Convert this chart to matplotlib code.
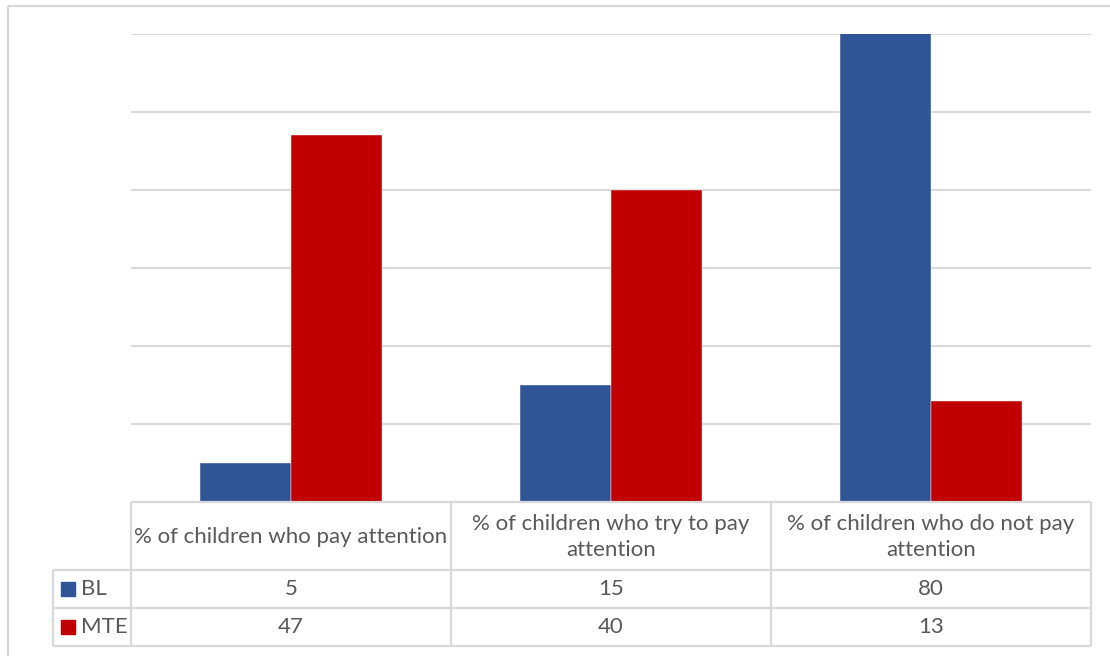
import numpy as np
import matplotlib.pyplot as plt

plt.rcParams['font.family'] = ['Lato', 'DejaVu Sans']

# data
categories = ["% of children who pay attention",
              "% of children who try to pay\nattention",
              "% of children who do not pay\nattention"]
series = ["BL", "MTE"]
bl_values = [5, 15, 80]
mte_values = [47, 40, 13]
colors = ["#2F5597", "#C00000"]

W, H = 1110, 656
fig = plt.figure(figsize=(W / 100, H / 100), dpi=100)
fig.patch.set_facecolor("white")

# plot area in pixel terms
px_left, px_right, px_top, px_bottom = 131, 1091, 34, 502
ax = fig.add_axes([px_left / W, 1 - px_bottom / H,
                   (px_right - px_left) / W, (px_bottom - px_top) / H])

x = np.arange(len(categories))
width = 1 / 3.5  # two bars plus a 150% gap
ax.bar(x - width / 2, bl_values, width, color=colors[0], zorder=3,
       edgecolor="white", linewidth=0.3)
ax.bar(x + width / 2, mte_values, width, color=colors[1], zorder=3,
       edgecolor="white", linewidth=0.3)
ax.set_xlim(-0.5, len(categories) - 0.5)
ax.set_ylim(0, 60)
ax.set_yticks(range(0, 61, 10))
ax.yaxis.grid(True, color="#D9D9D9", linewidth=1.5, zorder=0)
ax.set_xticks([])
ax.tick_params(left=False, labelleft=False)
for s in ax.spines.values():
    s.set_visible(False)

# overlay axes in pixel coordinates for the data table and chart frame
ov = fig.add_axes([0, 0, 1, 1], zorder=5)
ov.set_xlim(0, W)
ov.set_ylim(H, 0)
ov.axis("off")
ov.patch.set_alpha(0)

line_kw = dict(color="#D9D9D9", linewidth=1.6, solid_capstyle="butt")
# outer chart frame
ov.plot([8, 8], [6, H], **line_kw)
ov.plot([8, W], [6, 6], **line_kw)

col_edges = [131, 451, 771, 1091]
row_edges = [502, 570, 608, 646]
leg_left = 53

ov.plot([col_edges[0], col_edges[-1]], [row_edges[0], row_edges[0]], **line_kw)
for y in row_edges[1:]:
    ov.plot([leg_left, col_edges[-1]], [y, y], **line_kw)
for cx in col_edges:
    ov.plot([cx, cx], [row_edges[0], row_edges[-1]], **line_kw)
ov.plot([leg_left, leg_left], [row_edges[1], row_edges[-1]], **line_kw)

text_color = "#595959"
fs = 16
for i, cat in enumerate(categories):
    cx = (col_edges[i] + col_edges[i + 1]) / 2
    ov.text(cx, (row_edges[0] + row_edges[1]) / 2 + 1, cat, ha="center",
            va="center", fontsize=fs, color=text_color, linespacing=1.4)

for r, (name, vals) in enumerate(zip(series, [bl_values, mte_values])):
    cy = (row_edges[r + 1] + row_edges[r + 2]) / 2
    ov.add_patch(plt.Rectangle((61, cy - 7), 14, 14, color=colors[r]))
    ov.text(81, cy, name, ha="left", va="center", fontsize=fs,
            color=text_color)
    for i, v in enumerate(vals):
        cx = (col_edges[i] + col_edges[i + 1]) / 2
        ov.text(cx, cy, str(v), ha="center", va="center", fontsize=fs,
                color=text_color)

fig.savefig("out.png", dpi=100)
